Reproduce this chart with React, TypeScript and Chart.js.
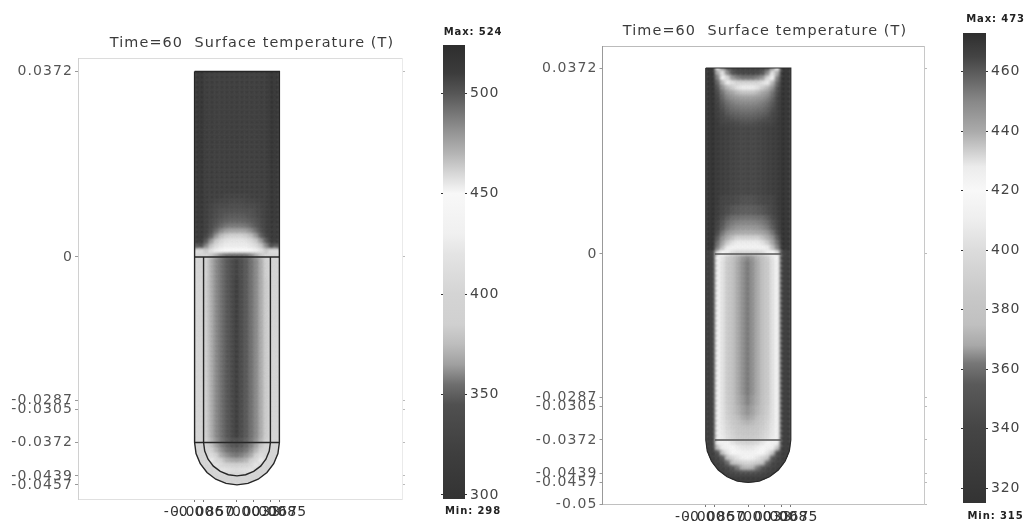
import React, { useEffect, useRef } from "react";
import { Chart, registerables } from "chart.js";

Chart.register(...registerables);

// ---------- data ----------
const panelTitle = "Time=60  Surface temperature (T)";
const xTicks = [-0.0085, -0.0067, 0, 0.0033, 0.0067, 0.0085];
const yTicksA = [0.0372, 0, -0.0287, -0.0305, -0.0372, -0.0439, -0.0457];
const yTicksB = [0.0372, 0, -0.0287, -0.0305, -0.0372, -0.0439, -0.0457, -0.05];
const barTicksA = [300, 350, 400, 450, 500];
const barTicksB = [320, 340, 360, 380, 400, 420, 440, 460];

// temperature -> grey
const tempStopsA = [524, 510, 500, 490, 480, 470, 460, 450, 430, 420, 400, 385, 375, 365, 355, 345, 320, 298];
const grayStopsA = [46, 60, 86, 118, 150, 180, 215, 248, 240, 228, 212, 208, 189, 160, 110, 80, 62, 51];
const tempStopsB = [473, 465, 460, 450, 440, 435, 428, 420, 410, 400, 385, 375, 368, 362, 355, 340, 315];
const grayStopsB = [46, 68, 90, 136, 170, 197, 236, 248, 238, 220, 200, 192, 168, 119, 90, 69, 51];

// Each row: [how many 1 mm rows, T at |x| = 0,1,...,8 mm]. Rows start at y = 38 mm and go down.
const heatRowsA = [
  [26, 511, 511, 511, 511, 511, 512, 512, 520, 518],
  [1, 509, 509, 509, 510, 511, 511, 512, 520, 518],
  [1, 507, 507, 508, 508, 509, 510, 512, 520, 518],
  [1, 505, 505, 506, 506, 507, 509, 511, 520, 518],
  [1, 503, 503, 504, 504, 506, 508, 511, 519, 518],
  [1, 500, 500, 501, 503, 505, 508, 511, 519, 518],
  [1, 497, 497, 498, 500, 503, 507, 510, 519, 518],
  [1, 490, 490, 492, 496, 501, 506, 510, 518, 517],
  [1, 476, 476, 478, 484, 494, 504, 510, 518, 517],
  [1, 462, 462, 464, 468, 480, 498, 508, 518, 517],
  [1, 456, 456, 457, 460, 465, 480, 500, 517, 516],
  [1, 454, 454, 454, 456, 459, 466, 485, 505, 500],
  [1, 450, 450, 450, 451, 453, 457, 464, 410, 410],
  [1, 350, 350, 352, 358, 366, 378, 400, 395, 395],
  [4, 320, 336, 347, 355, 360, 369, 385, 395, 395],
  [32, 312, 335, 347, 355, 360, 369, 383, 395, 395],
  [1, 340, 343, 350, 356, 362, 372, 390, 395, 395],
  [1, 345, 347, 352, 358, 365, 378, 400, 395, 395],
  [1, 350, 352, 356, 362, 372, 392, 400, 395, 395],
  [1, 356, 358, 362, 368, 385, 410, 395, 395, 395],
  [1, 366, 368, 372, 385, 405, 425, 395, 395, 395],
  [1, 385, 390, 395, 405, 420, 395, 395, 395, 395],
  [1, 410, 412, 415, 420, 395, 395, 395, 395, 395],
  [3, 395, 395, 395, 395, 395, 395, 395, 395, 395],
];
const heatRowsB = [
  [1, 470, 470, 470, 470, 470, 470, 470, 473, 472],
  [1, 468, 468, 468, 466, 462, 445, 425, 473, 472],
  [1, 466, 466, 465, 462, 450, 430, 440, 473, 472],
  [1, 455, 455, 452, 446, 432, 425, 452, 473, 472],
  [1, 432, 432, 432, 430, 428, 438, 458, 473, 472],
  [1, 428, 428, 430, 434, 438, 448, 462, 473, 472],
  [1, 436, 436, 438, 442, 446, 455, 464, 473, 472],
  [1, 444, 444, 446, 448, 452, 458, 466, 473, 472],
  [1, 450, 450, 451, 453, 456, 461, 467, 473, 472],
  [1, 454, 454, 455, 456, 459, 463, 468, 473, 472],
  [1, 457, 457, 458, 459, 461, 465, 468, 473, 472],
  [1, 460, 460, 461, 462, 464, 466, 469, 473, 472],
  [1, 463, 463, 464, 465, 466, 467, 470, 473, 472],
  [14, 466, 465, 466, 467, 468, 469, 470, 473, 472],
  [2, 463, 463, 464, 465, 466, 467, 470, 473, 472],
  [2, 460, 460, 461, 462, 464, 466, 469, 473, 472],
  [1, 455, 455, 456, 457, 460, 464, 468, 473, 472],
  [1, 451, 451, 452, 454, 457, 462, 467, 473, 472],
  [1, 446, 446, 447, 450, 454, 460, 466, 473, 472],
  [1, 440, 440, 441, 443, 447, 455, 464, 473, 472],
  [1, 433, 433, 433, 436, 440, 448, 460, 473, 472],
  [1, 428, 428, 428, 430, 434, 442, 456, 473, 472],
  [1, 425, 425, 425, 425, 428, 436, 452, 473, 472],
  [1, 395, 395, 395, 400, 410, 420, 430, 330, 325],
  [1, 364, 366, 370, 378, 388, 404, 418, 325, 322],
  [27, 362, 365, 368, 375, 385, 402, 416, 325, 322],
  [2, 363, 366, 369, 376, 386, 402, 416, 325, 322],
  [2, 365, 367, 371, 378, 388, 403, 416, 325, 322],
  [1, 367, 369, 374, 382, 390, 403, 416, 325, 322],
  [1, 371, 373, 378, 385, 393, 404, 415, 325, 322],
  [1, 375, 377, 381, 388, 395, 405, 415, 325, 322],
  [1, 380, 382, 385, 392, 398, 406, 415, 325, 322],
  [1, 385, 386, 388, 393, 400, 408, 415, 325, 322],
  [1, 392, 394, 398, 405, 415, 425, 410, 325, 322],
  [1, 405, 406, 410, 418, 425, 410, 380, 325, 322],
  [1, 425, 425, 422, 418, 405, 380, 345, 325, 322],
  [1, 415, 412, 405, 395, 380, 352, 335, 325, 322],
  [1, 395, 392, 385, 375, 358, 340, 330, 325, 322],
  [1, 372, 370, 362, 350, 338, 330, 325, 322, 322],
  [1, 345, 345, 342, 338, 330, 325, 322, 322, 322],
  [2, 322, 322, 322, 322, 322, 322, 322, 322, 322],
];

// tube outlines (data units)
const outerOutlineX = [-0.0085, -0.0085, -0.0085, -0.00821, -0.00736, -0.00601, -0.00425, -0.0022, 0, 0.0022, 0.00425, 0.00601, 0.00736, 0.00821, 0.0085, 0.0085, 0.0085, -0.0085];
const outerOutlineY = [0.0372, 0, -0.0372, -0.0394, -0.04145, -0.04321, -0.04456, -0.04541, -0.0457, -0.04541, -0.04456, -0.04321, -0.04145, -0.0394, -0.0372, 0, 0.0372, 0.0372];
const innerOutlineX = [-0.0067, -0.0067, -0.00647, -0.0058, -0.00474, -0.00335, -0.00173, 0, 0.00173, 0.00335, 0.00474, 0.0058, 0.00647, 0.0067, 0.0067];
const innerOutlineY = [0, -0.0372, -0.03893, -0.04055, -0.04194, -0.043, -0.04367, -0.0439, -0.04367, -0.043, -0.04194, -0.04055, -0.03893, -0.0372, 0];
const dividerXWide = [-0.0085, 0.0085];
const dividerXNarrow = [-0.0067, 0.0067];
const tubeRadius = 0.0085;
const tubeTop = 0.0372;
const tubeCapY = -0.0372;

// ---------- helpers ----------
const FONT = "'DejaVu Sans', sans-serif";

function grayFor(t: number, temps: number[], grays: number[]) {
  let g = grays[grays.length - 1];
  if (t >= temps[0]) g = grays[0];
  else {
    for (let i = 0; i < temps.length - 1; i++) {
      if (t <= temps[i] && t >= temps[i + 1]) {
        const f = (temps[i] - t) / (temps[i] - temps[i + 1]);
        g = grays[i] + f * (grays[i + 1] - grays[i]);
        break;
      }
    }
  }
  const v = Math.round(g);
  return `rgb(${v},${v},${v})`;
}

function expandCells(rows: number[][]) {
  const cells: { x: number; y: number; v: number }[] = [];
  let yMm = 38;
  rows.forEach((row) => {
    for (let n = 0; n < row[0]; n++) {
      for (let off = -8; off <= 8; off++) {
        cells.push({ x: off / 1000, y: yMm / 1000, v: row[1 + Math.abs(off)] });
      }
      yMm -= 1;
    }
  });
  return cells;
}

const zip = (xs: number[], ys: number[]) => xs.map((x, i) => ({ x, y: ys[i] }));

const spacing = (px: string) => ({
  id: "spacing",
  beforeDraw(chart: any) {
    chart.ctx.letterSpacing = px;
  },
});

const heatBlur = {
  id: "heatBlur",
  beforeDatasetDraw(chart: any, args: any) {
    if (chart.data.datasets[args.index].label !== "heat") return;
    const { ctx, scales } = chart;
    const xs = scales.x;
    const ys = scales.y;
    const cx = xs.getPixelForValue(0);
    const R = xs.getPixelForValue(tubeRadius) - cx;
    const top = ys.getPixelForValue(tubeTop);
    const yc = ys.getPixelForValue(tubeCapY);
    ctx.save();
    ctx.beginPath();
    ctx.moveTo(cx - R, top);
    ctx.lineTo(cx + R, top);
    ctx.lineTo(cx + R, yc);
    ctx.arc(cx, yc, R, 0, Math.PI);
    ctx.closePath();
    ctx.clip();
    ctx.filter = "blur(1.8px)";
  },
  afterDatasetDraw(chart: any, args: any) {
    if (chart.data.datasets[args.index].label !== "heat") return;
    chart.ctx.filter = "none";
    chart.ctx.restore();
  },
};

type PanelCfg = {
  left: number;
  width: number;
  areaLeft: number;
  areaRight: number;
  areaTop: number;
  areaBottom: number;
  titlePadTop: number;
  xRange: [number, number];
  yRange: [number, number];
  yTicks: number[];
  rows: number[][];
  temps: number[];
  grays: number[];
  axisColors: { left: string; top: string; right: string; bottom: string };
  lineColor: string;
  outlineWidth: number;
  divider: number[];
  dividerColor: string;
  showInner: boolean;
};

const panelA: PanelCfg = {
  left: 0,
  width: 504,
  areaLeft: 78,
  areaRight: 402,
  areaTop: 58,
  areaBottom: 499,
  titlePadTop: 35,
  xRange: [-0.03188, 0.03309],
  yRange: [-0.04853, 0.0399],
  yTicks: yTicksA,
  rows: heatRowsA,
  temps: tempStopsA,
  grays: grayStopsA,
  axisColors: { left: "#d0d0d0", top: "#dcdcdc", right: "#eaeaea", bottom: "#e0e0e0" },
  lineColor: "#262626",
  outlineWidth: 1.4,
  divider: dividerXWide,
  dividerColor: "#262626",
  showInner: true,
};

const panelB: PanelCfg = {
  left: 520,
  width: 490,
  areaLeft: 602.5,
  areaRight: 924,
  areaTop: 46,
  areaBottom: 504,
  titlePadTop: 23,
  xRange: [-0.02916, 0.03514],
  yRange: [-0.05, 0.0416],
  yTicks: yTicksB,
  rows: heatRowsB,
  temps: tempStopsB,
  grays: grayStopsB,
  axisColors: { left: "#999999", top: "#bbbbbb", right: "#c8c8c8", bottom: "#c0c0c0" },
  lineColor: "#2a2a2a",
  outlineWidth: 1.2,
  divider: dividerXNarrow,
  dividerColor: "#555555",
  showInner: false,
};

function makePanel(canvas: HTMLCanvasElement, c: PanelCfg) {
  const tickCb = (v: any) => String(v);
  const lineDs = (data: any[], color: string, width: number) => ({
    type: "scatter",
    data,
    showLine: true,
    borderColor: color,
    borderWidth: width,
    pointRadius: 0,
    tension: 0,
    fill: false,
    order: 1,
  });
  const datasets: any[] = [
    lineDs(zip(outerOutlineX, outerOutlineY), c.lineColor, c.outlineWidth),
    lineDs(zip(c.divider, [0, 0]), c.dividerColor, 1.3),
    lineDs(zip(c.divider, [tubeCapY, tubeCapY]), c.dividerColor, 1.3),
  ];
  if (c.showInner) datasets.push(lineDs(zip(innerOutlineX, innerOutlineY), c.lineColor, c.outlineWidth));
  datasets.push({
    label: "heat",
    type: "scatter",
    data: expandCells(c.rows),
    pointStyle: "rect",
    pointRadius: 4.9,
    pointBorderWidth: 0,
    pointBackgroundColor: (ctx: any) => (ctx.raw ? grayFor(ctx.raw.v, c.temps, c.grays) : "#888"),
    order: 5,
  });
  return new Chart(canvas, {
    type: "scatter",
    data: { datasets },
    plugins: [spacing("1.1px"), heatBlur],
    options: {
      animation: false,
      responsive: false,
      events: [],
      layout: { padding: 0 },
      plugins: {
        legend: { display: false },
        tooltip: { enabled: false },
        title: {
          display: true,
          text: panelTitle,
          color: "#3a3a3a",
          font: { family: FONT, size: 14.4, weight: "normal", lineHeight: "16px" },
          padding: { top: c.titlePadTop, bottom: c.areaTop - c.titlePadTop - 16 },
        },
      },
      scales: {
        x: {
          type: "linear",
          position: "bottom",
          min: c.xRange[0],
          max: c.xRange[1],
          afterBuildTicks: (s: any) => { s.ticks = xTicks.map((value) => ({ value })); },
          afterFit: (s: any) => { s.height = 522 - c.areaBottom; },
          border: { color: c.axisColors.bottom },
          grid: { drawOnChartArea: false, tickLength: 3, color: "#777" },
          ticks: { autoSkip: false, maxRotation: 0, padding: 2, color: "#333", callback: tickCb, font: { family: FONT, size: 14 } },
        },
        x2: {
          type: "linear",
          position: "top",
          min: c.xRange[0],
          max: c.xRange[1],
          afterBuildTicks: (s: any) => { s.ticks = xTicks.map((value) => ({ value })); },
          afterFit: (s: any) => { s.height = 0; },
          border: { color: c.axisColors.top },
          grid: { drawOnChartArea: false, tickLength: 0 },
          ticks: { display: false },
        },
        y: {
          type: "linear",
          position: "left",
          min: c.yRange[0],
          max: c.yRange[1],
          afterBuildTicks: (s: any) => { s.ticks = c.yTicks.map((value) => ({ value })); },
          afterFit: (s: any) => { s.width = c.areaLeft - c.left; },
          border: { color: c.axisColors.left },
          grid: { drawOnChartArea: false, tickLength: 3, color: "#999" },
          ticks: { autoSkip: false, padding: 2, color: "#555", callback: tickCb, font: { family: FONT, size: 14 } },
        },
        y2: {
          type: "linear",
          position: "right",
          min: c.yRange[0],
          max: c.yRange[1],
          afterBuildTicks: (s: any) => { s.ticks = c.yTicks.map((value) => ({ value })); },
          afterFit: (s: any) => { s.width = c.left + c.width - c.areaRight; },
          border: { color: c.axisColors.right },
          grid: { drawOnChartArea: false, tickLength: 3, color: "#bbb" },
          ticks: { display: false },
        },
      },
    } as any,
  } as any);
}

type BarCfg = {
  left: number;
  width: number;
  areaLeft: number;
  areaRight: number;
  areaTop: number;
  areaBottom: number;
  titlePadTop: number;
  subPadTop: number;
  labelMax: number;
  labelMin: number;
  min: number;
  max: number;
  ticks: number[];
  temps: number[];
  grays: number[];
};

const barA: BarCfg = {
  left: 430, width: 86, areaLeft: 443, areaRight: 465, areaTop: 45, areaBottom: 499,
  titlePadTop: 26, subPadTop: 6, labelMax: 524, labelMin: 298, min: 298, max: 524, ticks: barTicksA, temps: tempStopsA, grays: grayStopsA,
};
const barB: BarCfg = {
  left: 950, width: 91, areaLeft: 963, areaRight: 986, areaTop: 33, areaBottom: 503.5,
  titlePadTop: 13, subPadTop: 7, labelMax: 473, labelMin: 315, min: 315, max: 473, ticks: barTicksB, temps: tempStopsB, grays: grayStopsB,
};

function makeBar(canvas: HTMLCanvasElement, c: BarCfg) {
  const fill = (ctx: any) => {
    const { chart } = ctx;
    const y = chart.scales.y;
    if (!chart.chartArea || !y) return "#888";
    const top = y.getPixelForValue(c.max);
    const bottom = y.getPixelForValue(c.min);
    const g = chart.ctx.createLinearGradient(0, top, 0, bottom);
    c.temps.forEach((t, i) => {
      const v = c.grays[i];
      const pos = (y.getPixelForValue(t) - top) / (bottom - top);
      g.addColorStop(Math.min(1, Math.max(0, pos)), `rgb(${v},${v},${v})`);
    });
    return g;
  };
  const side = {
    type: "linear",
    min: c.min,
    max: c.max,
    afterBuildTicks: (s: any) => { s.ticks = c.ticks.map((value) => ({ value })); },
  };
  return new Chart(canvas, {
    type: "bar",
    data: {
      labels: ["T"],
      datasets: [{ data: [[c.min, c.max]], backgroundColor: fill, barPercentage: 1, categoryPercentage: 1, borderWidth: 0 }],
    },
    plugins: [spacing("0.9px")],
    options: {
      animation: false,
      responsive: false,
      events: [],
      layout: { padding: 0 },
      plugins: {
        legend: { display: false },
        tooltip: { enabled: false },
        title: {
          display: true,
          text: `Max: ${c.labelMax}`,
          color: "#222",
          font: { family: FONT, size: 10, weight: "bold", lineHeight: "12px" },
          padding: { top: c.titlePadTop, bottom: c.areaTop - c.titlePadTop - 12 },
        },
        subtitle: {
          display: true,
          position: "bottom",
          text: `Min: ${c.labelMin}`,
          color: "#222",
          font: { family: FONT, size: 10, weight: "bold", lineHeight: "12px" },
          padding: { top: c.subPadTop, bottom: Math.max(0, 522 - c.areaBottom - c.subPadTop - 12) },
        },
      },
      scales: {
        x: { display: false },
        y: {
          ...side,
          position: "right",
          afterFit: (s: any) => { s.width = c.left + c.width - c.areaRight; },
          border: { display: false },
          grid: { drawOnChartArea: false, tickLength: 2, color: "#333" },
          ticks: { autoSkip: false, padding: 3, color: "#444", font: { family: FONT, size: 14 } },
        },
        y2: {
          ...side,
          position: "left",
          afterFit: (s: any) => { s.width = c.areaLeft - c.left; },
          border: { display: false },
          grid: { drawOnChartArea: false, tickLength: 2, color: "#333" },
          ticks: { display: false },
        },
      },
    } as any,
  } as any);
}

function Panel({ left, width, build }: { left: number; width: number; build: (c: HTMLCanvasElement) => Chart }) {
  const ref = useRef<HTMLCanvasElement>(null);
  useEffect(() => {
    const chart = build(ref.current as HTMLCanvasElement);
    return () => chart.destroy();
  }, [build]);
  return (
    <canvas
      ref={ref}
      width={width}
      height={522}
      style={{ position: "absolute", left, top: 0, width, height: 522, filter: "blur(0.55px)" }}
    />
  );
}

const buildA = (el: HTMLCanvasElement) => makePanel(el, panelA);
const buildB = (el: HTMLCanvasElement) => makePanel(el, panelB);
const buildBarA = (el: HTMLCanvasElement) => makeBar(el, barA);
const buildBarB = (el: HTMLCanvasElement) => makeBar(el, barB);

export default function App() {
  return (
    <div style={{ position: "fixed", left: 0, top: 0, width: 1027, height: 522, overflow: "hidden", background: "#fff" }}>
      <Panel left={panelA.left} width={panelA.width} build={buildA} />
      <Panel left={panelB.left} width={panelB.width} build={buildB} />
      <Panel left={barA.left} width={barA.width} build={buildBarA} />
      <Panel left={barB.left} width={barB.width} build={buildBarB} />
    </div>
  );
}
